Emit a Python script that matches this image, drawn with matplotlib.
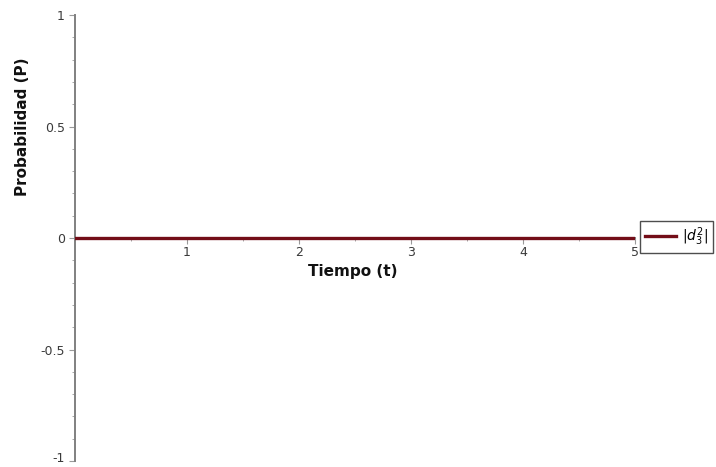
import numpy as np
import matplotlib
matplotlib.use("Agg")
import matplotlib.pyplot as plt
import matplotlib.transforms as mtransforms

# probability |d3^2| over time (stays at zero)
t_values = [0.0, 1.0, 2.0, 3.0, 4.0, 5.0]
p_values = [0.0, 0.0, 0.0, 0.0, 0.0, 0.0]
x_ticks = [1, 2, 3, 4, 5]
y_ticks = [-1, -0.5, 0, 0.5, 1]
y_tick_labels = ["-1", "-0.5", "0", "0.5", "1"]

fig = plt.figure(figsize=(7.16, 4.67), dpi=100)
ax = fig.add_axes([0.1043, 0.0128, 0.7825, 0.955])

line, = ax.plot(t_values, p_values, color="#730d18", linewidth=2.4,
                label=r"$|d_3^2|$", zorder=3)

ax.set_xlim(0, 5)
ax.set_ylim(-1, 1)

# axes cross at the origin
ax.spines["left"].set_position(("data", 0))
ax.spines["bottom"].set_position(("data", 0))
ax.spines["top"].set_visible(False)
ax.spines["right"].set_visible(False)
for s in ("left", "bottom"):
    ax.spines[s].set_color("#808080")
    ax.spines[s].set_linewidth(1.4)

ax.set_xticks(x_ticks)
ax.set_xticks(np.arange(0.5, 5.0, 1.0), minor=True)
ax.set_yticks(y_ticks)
ax.set_yticklabels(y_tick_labels)
ax.set_yticks(np.arange(-0.9, 1.0, 0.1), minor=True)

ax.tick_params(axis="x", which="both", direction="out", colors="#9a9a9a",
               labelcolor="#3a3a3a", labelsize=9, pad=2)
ax.tick_params(axis="x", which="major", length=4)
ax.tick_params(axis="x", which="minor", length=2)
ax.tick_params(axis="y", which="both", direction="out", colors="#9a9a9a",
               labelcolor="#3a3a3a", labelsize=9, pad=3)
ax.tick_params(axis="y", which="major", length=4)
ax.tick_params(axis="y", which="minor", length=2)

# keep the bottom "-1" label inside the canvas
lowest = ax.get_yticklabels()[0]
lowest.set_transform(lowest.get_transform() +
                     mtransforms.ScaledTranslation(0, 3 / 72, fig.dpi_scale_trans))

fig.text(0.493, 0.418, "Tiempo (t)", ha="center", va="center",
         fontsize=11, fontweight="bold", color="#111111")
fig.text(0.031, 0.728, "Probabilidad (P)", ha="center", va="center",
         rotation=90, fontsize=11, fontweight="bold", color="#111111")

leg = ax.legend(handles=[line], loc="center left",
                bbox_to_anchor=(0.894, 0.4925), bbox_transform=fig.transFigure,
                frameon=True, fancybox=False, fontsize=10,
                handlelength=2.2, handletextpad=0.5, borderpad=0.35,
                borderaxespad=0)
leg.get_frame().set_edgecolor("#222222")
leg.get_frame().set_linewidth(1.0)

fig.savefig("out.png", dpi=100)
